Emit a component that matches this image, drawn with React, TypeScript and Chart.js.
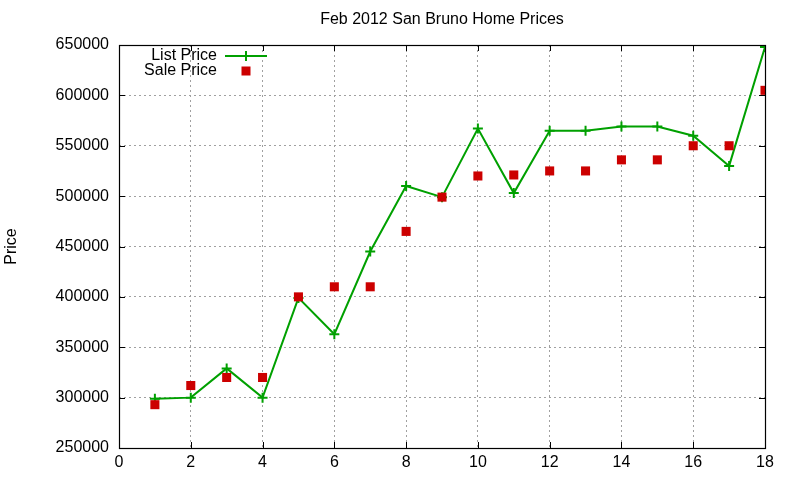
import React, { useEffect, useRef } from "react";
import { Chart, registerables } from "chart.js";

Chart.register(...registerables);

const chartTitle = "Feb 2012 San Bruno Home Prices";
const yAxisTitle = "Price";
const xValues = [1, 2, 3, 4, 5, 6, 7, 8, 9, 10, 11, 12, 13, 14, 15, 16, 17, 18];
const listPrice = [299000, 300000, 329000, 300000, 399000, 363000, 445000, 510000, 499000, 567000, 503000, 565000, 565000, 569000, 569000, 560000, 530000, 648000];
const salePrice = [293000, 312000, 320000, 320000, 400000, 410000, 410000, 465000, 499000, 520000, 521000, 525000, 525000, 536000, 536000, 550000, 550000, 605000];
const seriesNames = ["List Price", "Sale Price"];
const xMin = 0, xMax = 18, xStep = 2;
const yMin = 250000, yMax = 650000, yStep = 50000;

const GREEN = "#00a000";
const RED = "#cc0000";
const FONT = "Liberation Sans, Arial, sans-serif";

const decorPlugin = {
  id: "decor",
  afterDatasetsDraw(chart: any) {
    const { ctx, chartArea: a, scales } = chart;
    ctx.save();
    // frame
    ctx.strokeStyle = "#000";
    ctx.lineWidth = 1.2;
    ctx.strokeRect(Math.round(a.left) + 0.5, Math.round(a.top) + 0.5, Math.round(a.right - a.left), Math.round(a.bottom - a.top));
    // inward ticks
    const tl = 6;
    ctx.lineWidth = 1;
    ctx.beginPath();
    scales.x.ticks.forEach((t: any) => {
      const px = Math.round(scales.x.getPixelForValue(t.value)) + 0.5;
      ctx.moveTo(px, a.bottom); ctx.lineTo(px, a.bottom - tl);
      ctx.moveTo(px, a.top); ctx.lineTo(px, a.top + tl);
    });
    scales.y.ticks.forEach((t: any) => {
      const py = Math.round(scales.y.getPixelForValue(t.value)) + 0.5;
      ctx.moveTo(a.left, py); ctx.lineTo(a.left + tl, py);
      ctx.moveTo(a.right, py); ctx.lineTo(a.right - tl, py);
    });
    ctx.stroke();
    // title
    ctx.fillStyle = "#000";
    ctx.font = `16px ${FONT}`;
    ctx.textAlign = "center";
    ctx.textBaseline = "middle";
    ctx.fillText(chartTitle, (a.left + a.right) / 2, 20);
    // y title
    ctx.save();
    ctx.translate(12, (a.top + a.bottom) / 2);
    ctx.rotate(-Math.PI / 2);
    ctx.font = `16px ${FONT}`;
    ctx.fillText(yAxisTitle, 0, 0);
    ctx.restore();
    // legend
    ctx.font = `16px ${FONT}`;
    ctx.textAlign = "right";
    const lx = a.left + 98;
    const sx = a.left + 127;
    const y1 = a.top + 11;
    const y2 = a.top + 26;
    ctx.fillText(seriesNames[0], lx, y1);
    ctx.fillText(seriesNames[1], lx, y2);
    ctx.strokeStyle = GREEN;
    ctx.lineWidth = 2;
    ctx.beginPath();
    ctx.moveTo(a.left + 106, y1);
    ctx.lineTo(a.left + 148, y1);
    ctx.moveTo(sx, y1 - 5);
    ctx.lineTo(sx, y1 + 5);
    ctx.stroke();
    ctx.fillStyle = RED;
    ctx.fillRect(sx - 4.5, y2 - 4.5, 9, 9);
    ctx.restore();
  },
};

export default function App() {
  const ref = useRef<HTMLCanvasElement>(null);
  useEffect(() => {
    document.body.style.margin = "0";
    const chart = new Chart(ref.current as HTMLCanvasElement, {
      type: "scatter",
      data: {
        datasets: [
          {
            label: seriesNames[0],
            data: xValues.map((x, i) => ({ x, y: listPrice[i] })),
            showLine: true,
            borderColor: GREEN,
            backgroundColor: GREEN,
            borderWidth: 2,
            pointStyle: "cross",
            pointRadius: 5,
            pointBorderWidth: 2,
            pointBorderColor: GREEN,
            order: 1,
          },
          {
            label: seriesNames[1],
            data: xValues.map((x, i) => ({ x, y: salePrice[i] })),
            showLine: false,
            backgroundColor: RED,
            borderColor: RED,
            pointStyle: "rect",
            pointRadius: 6.4,
            pointBorderWidth: 0,
            order: 0,
          },
        ],
      },
      options: {
        animation: false,
        responsive: false,
        devicePixelRatio: 1,
        layout: { padding: { left: 0, right: 35, top: 45, bottom: 0 } },
        plugins: { legend: { display: false }, title: { display: false }, tooltip: { enabled: false } },
        scales: {
          x: {
            type: "linear",
            min: xMin,
            max: xMax,
            ticks: { stepSize: xStep, color: "#000", font: { family: FONT, size: 16 }, padding: 5, maxRotation: 0, callback: (v: any) => String(v) },
            grid: { color: "#a0a0a0", drawTicks: false, lineWidth: 1 },
            border: { display: false, dash: [2, 3] },
            afterFit: (s: any) => { s.height = 32; },
          },
          y: {
            type: "linear",
            min: yMin,
            max: yMax,
            ticks: { stepSize: yStep, color: "#000", font: { family: FONT, size: 16 }, padding: 10, callback: (v: any) => String(v) },
            grid: { color: "#a0a0a0", drawTicks: false, lineWidth: 1 },
            border: { display: false, dash: [2, 3] },
            afterFit: (s: any) => { s.width = 119; },
          },
        },
      },
      plugins: [decorPlugin],
    } as any);
    return () => chart.destroy();
  }, []);
  return (
    <div style={{ width: 800, height: 480, background: "#fff" }}>
      <canvas ref={ref} width={800} height={480} style={{ display: "block" }} />
    </div>
  );
}
